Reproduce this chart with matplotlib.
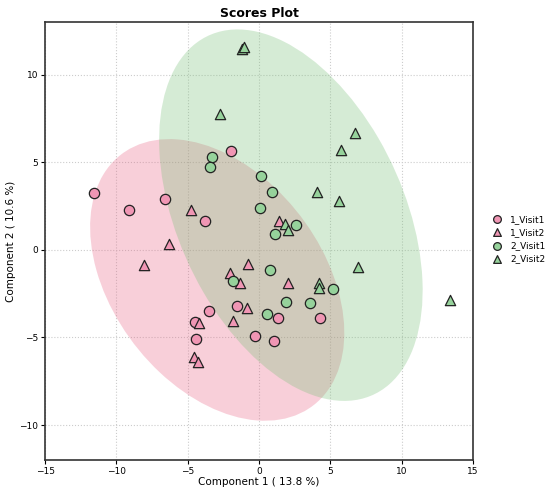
import numpy as np
import matplotlib
matplotlib.use("Agg")
import matplotlib.pyplot as plt
from matplotlib.patches import Ellipse

# scores (Component 1, Component 2)
v1_visit1_x = [-11.6, -9.1, -6.59, -1.98, -3.81, -1.56, 1.3, -3.5, -4.48, -4.41, -0.28, 1.05, 4.27]
v1_visit1_y = [3.22, 2.27, 2.91, 5.62, 1.62, -3.22, -3.87, -3.47, -4.1, -5.1, -4.93, -5.18, -3.9]

v1_visit2_x = [-4.79, -6.33, -8.04, -0.79, -2.03, -1.31, -0.86, -4.18, -1.8, -4.55, -4.27, 1.38, 2.01]
v1_visit2_y = [2.30, 0.36, -0.86, -0.82, -1.35, -1.89, -3.3, -4.17, -4.08, -6.1, -6.4, 1.66, -1.87]

v2_visit1_x = [-3.27, -3.43, 0.12, 0.93, 0.05, 1.14, 2.59, -1.84, 0.77, 0.58, 1.89, 3.57, 5.16]
v2_visit1_y = [5.31, 4.74, 4.21, 3.3, 2.4, 0.93, 1.41, -1.79, -1.16, -3.66, -2.95, -3.05, -2.21]

v2_visit2_x = [-1.21, -1.03, -2.76, 6.71, 5.77, 4.04, 5.6, 1.85, 2.03, 6.96, 13.4, 4.18, 4.23]
v2_visit2_y = [11.47, 11.6, 7.73, 6.65, 5.68, 3.3, 2.8, 1.49, 1.16, -0.97, -2.86, -1.89, -2.19]

comp1_var = 13.8
comp2_var = 10.6


def conf_ellipse(ax, x, y, color, alpha, n_std=2.4477):
    # 95% confidence ellipse from the group covariance
    x = np.asarray(x)
    y = np.asarray(y)
    cov = np.cov(x, y)
    vals, vecs = np.linalg.eigh(cov)
    order = vals.argsort()[::-1]
    vals, vecs = vals[order], vecs[:, order]
    angle = np.degrees(np.arctan2(vecs[1, 0], vecs[0, 0]))
    w, h = 2 * n_std * np.sqrt(vals)
    e = Ellipse((x.mean(), y.mean()), w, h, angle=angle,
                facecolor=color, alpha=alpha, edgecolor='none', zorder=1)
    ax.add_patch(e)


fig = plt.figure(figsize=(5.5, 4.91), dpi=100)
ax = fig.add_axes([0.082, 0.063, 0.778, 0.892])

pink = '#F096B4'
green = '#96D29B'

conf_ellipse(ax, v1_visit1_x + v1_visit2_x, v1_visit1_y + v1_visit2_y, '#E86384', 0.3)
conf_ellipse(ax, v2_visit1_x + v2_visit2_x, v2_visit1_y + v2_visit2_y, '#76BF76', 0.3)

kw = dict(s=55, edgecolors='#222222', linewidths=0.9, zorder=3)
ax.scatter(v1_visit1_x, v1_visit1_y, marker='o', color=pink, label='1_Visit1', **kw)
ax.scatter(v1_visit2_x, v1_visit2_y, marker='^', color=pink, label='1_Visit2', **kw)
ax.scatter(v2_visit1_x, v2_visit1_y, marker='o', color=green, label='2_Visit1', **kw)
ax.scatter(v2_visit2_x, v2_visit2_y, marker='^', color=green, label='2_Visit2', **kw)

ax.set_xlim(-15, 15)
ax.set_ylim(-12, 13)
ax.set_xticks(range(-15, 16, 5))
ax.set_yticks(range(-10, 11, 5))
ax.grid(True, linestyle=':', color='#cccccc', linewidth=0.8)
ax.set_axisbelow(True)
ax.tick_params(labelsize=6.5, length=3, pad=2)
for sp in ax.spines.values():
    sp.set_color('#333333')
    sp.set_linewidth(1.2)

ax.set_xlabel('Component 1 ( %.1f %%)' % comp1_var, fontsize=7.5, labelpad=1)
ax.set_ylabel('Component 2 ( %.1f %%)' % comp2_var, fontsize=7.5, labelpad=2)
ax.set_title('Scores Plot', fontsize=9, fontweight='bold', pad=4)

ax.legend(loc='center left', bbox_to_anchor=(1.0, 0.505), frameon=False,
          fontsize=6.5, handletextpad=0.4, labelspacing=0.45, borderaxespad=1.3,
          markerscale=0.75)

fig.savefig('out.png', dpi=100)
